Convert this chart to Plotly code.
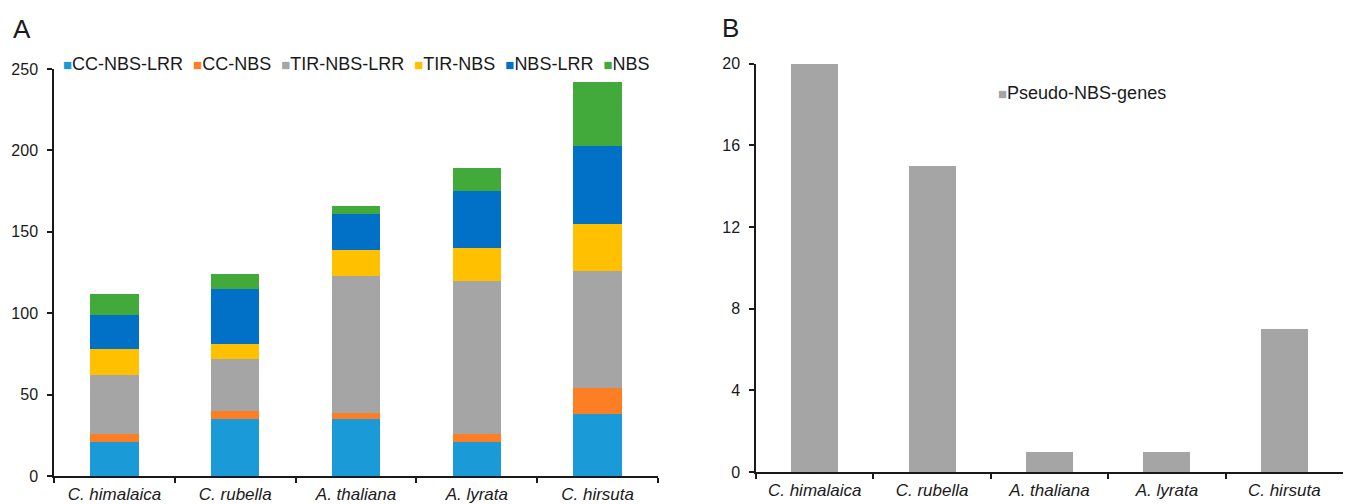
import plotly.graph_objects as go

categories = ["C. himalaica", "C. rubella", "A. thaliana", "A. lyrata", "C. hirsuta"]
series_names = ["CC-NBS-LRR", "CC-NBS", "TIR-NBS-LRR", "TIR-NBS", "NBS-LRR", "NBS"]
cc_nbs_lrr = [21, 35, 35, 21, 38]
cc_nbs = [5, 5, 4, 5, 16]
tir_nbs_lrr = [36, 32, 84, 94, 72]
tir_nbs = [16, 9, 16, 20, 29]
nbs_lrr = [21, 34, 22, 35, 48]
nbs = [13, 9, 5, 14, 39]
pseudo_name = "Pseudo-NBS-genes"
pseudo_nbs = [20, 15, 1, 1, 7]

y_ticks_a = [0, 50, 100, 150, 200, 250]
y_ticks_b = [0, 4, 8, 12, 16, 20]

colors = ["#1a9bd7", "#fd7e23", "#a5a5a5", "#ffc000", "#0071c6", "#42aa3b"]
pseudo_color = "#a5a5a5"

FONT = "Liberation Sans, Arial, sans-serif"
TXT = "#1a1a1a"

fig = go.Figure()
for name, vals, col in zip(series_names, [cc_nbs_lrr, cc_nbs, tir_nbs_lrr, tir_nbs, nbs_lrr, nbs], colors):
    fig.add_trace(go.Bar(x=categories, y=vals, name=name, marker=dict(color=col, line=dict(width=0)),
                         xaxis="x", yaxis="y", showlegend=False))
fig.add_trace(go.Bar(x=categories, y=pseudo_nbs, name=pseudo_name,
                     marker=dict(color=pseudo_color, line=dict(width=0)),
                     xaxis="x2", yaxis="y2", showlegend=False))

W, H = 1348, 504
axis_common = dict(showline=True, linecolor="#1a1a1a", linewidth=1.5, ticks="outside",
                   ticklen=5, tickwidth=1.5, tickcolor="#1a1a1a", showgrid=False, zeroline=False,
                   automargin=False)

fig.update_layout(
    width=W, height=H, margin=dict(l=0, r=0, t=0, b=0),
    paper_bgcolor="white", plot_bgcolor="white",
    barmode="stack", bargap=0.6,
    font=dict(family=FONT, color=TXT, size=16),
    xaxis=dict(domain=[54 / W, 658 / W], anchor="y", tickson="boundaries",
               tickfont=dict(size=17, family=FONT, style="italic"), ticklabelstandoff=2, **axis_common),
    yaxis=dict(domain=[(H - 476) / H, (H - 69) / H], anchor="x", range=[0, 250],
               tickvals=y_ticks_a, tickfont=dict(size=16), ticklabelstandoff=6, **axis_common),
    xaxis2=dict(domain=[756 / W, 1343 / W], anchor="y2", tickson="boundaries",
                tickfont=dict(size=17, family=FONT, style="italic"), ticklabelstandoff=2, **axis_common),
    yaxis2=dict(domain=[(H - 472) / H, (H - 63.5) / H], anchor="x2", range=[0, 20],
                tickvals=y_ticks_b, tickfont=dict(size=16), ticklabelstandoff=6, **axis_common),
)

# Legend rows drawn as text (compact Excel-style legend)
def legend_text(names, cols):
    parts = []
    for n, c in zip(names, cols):
        parts.append(f"<span style='color:{c};font-size:15px'>■</span>{n}")
    return "&nbsp;&nbsp;".join(parts)

fig.add_annotation(x=356 / W, y=(H - 64) / H, xref="paper", yref="paper",
                   text=legend_text(series_names, colors), showarrow=False,
                   xanchor="center", yanchor="middle", font=dict(size=18, family=FONT, color=TXT))
fig.add_annotation(x=996 / W, y=(H - 93) / H, xref="paper", yref="paper",
                   text=legend_text([pseudo_name], [pseudo_color]), showarrow=False,
                   xanchor="left", yanchor="middle", font=dict(size=18, family=FONT, color=TXT))

# Panel letters
fig.add_annotation(x=11 / W, y=(H - 29) / H, xref="paper", yref="paper", text="A", showarrow=False,
                   xanchor="left", yanchor="middle", font=dict(size=26, family=FONT, color=TXT))
fig.add_annotation(x=720 / W, y=(H - 28) / H, xref="paper", yref="paper", text="B", showarrow=False,
                   xanchor="left", yanchor="middle", font=dict(size=26, family=FONT, color=TXT))

fig.write_html("out.html", config={"displayModeBar": False},
               post_script="document.body.style.margin='0';document.body.style.overflow='hidden';")
